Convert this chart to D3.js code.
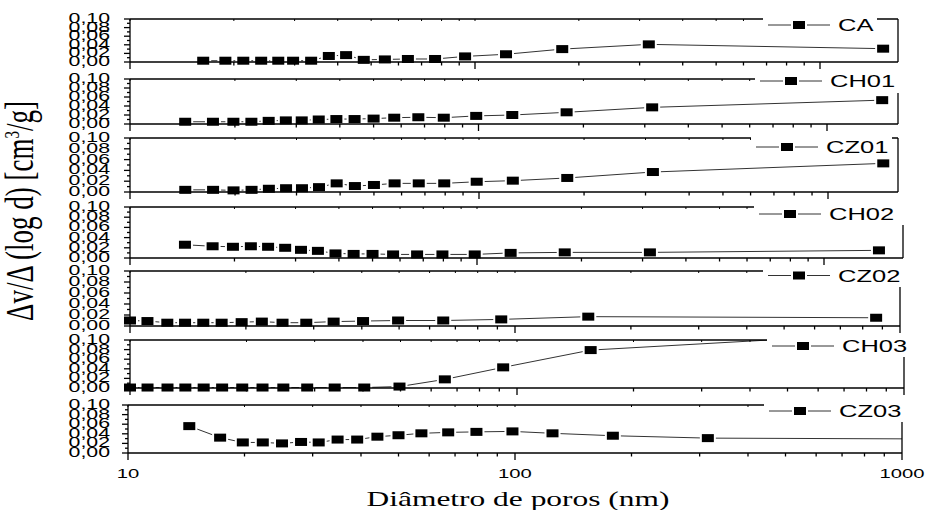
<!DOCTYPE html>
<html>
<head>
<meta charset="utf-8">
<script src="https://cdn.jsdelivr.net/npm/d3@7"></script>
<style>
  html, body { margin: 0; padding: 0; background: #fff; }
  svg { display: block; }
</style>
</head>
<body>
<svg id="chart" width="930" height="510"></svg>
<script>
// Pore size distributions, one stacked panel per sample
const seriesNames = ["CA", "CH01", "CZ01", "CH02", "CZ02", "CH03", "CZ03"];

// pore diameters (nm)
const diamCA = [16.3, 18.9, 21.3, 24.0, 26.9, 29.7, 33.5, 37.7, 42.3, 47.6, 54.8, 63.9, 76.6, 93.6, 123, 179, 319, 1524];
const diamStd = [14.4, 17.3, 19.8, 22.3, 25.0, 28.0, 31.1, 34.8, 39.1, 44.1, 50.0, 57.3, 67.2, 79.5, 98.5, 125, 179, 315, 1440];
const diamFine = [10.0, 11.1, 12.5, 13.9, 15.5, 17.3, 19.5, 22.0, 24.9, 28.7, 33.8, 40.3, 49.7, 65.1, 92.1, 155, 867];

// dV/dlog(D) (cm3/g)
const valCA   = [0.003, 0.003, 0.003, 0.003, 0.003, 0.003, 0.003, 0.014, 0.016, 0.005, 0.006, 0.007, 0.007, 0.013, 0.018, 0.030, 0.041, 0.031];
const valCH01 = [0.005, 0.005, 0.005, 0.005, 0.007, 0.008, 0.008, 0.010, 0.011, 0.011, 0.012, 0.014, 0.015, 0.014, 0.018, 0.020, 0.026, 0.037, 0.053];
const valCZ01 = [0.004, 0.004, 0.003, 0.004, 0.006, 0.007, 0.007, 0.009, 0.016, 0.011, 0.013, 0.016, 0.016, 0.016, 0.019, 0.021, 0.026, 0.037, 0.053];
const valCH02 = [0.026, 0.023, 0.022, 0.023, 0.022, 0.020, 0.016, 0.014, 0.009, 0.008, 0.008, 0.007, 0.007, 0.007, 0.007, 0.010, 0.011, 0.011, 0.015];
const valCZ02 = [0.010, 0.009, 0.006, 0.006, 0.006, 0.006, 0.007, 0.008, 0.006, 0.006, 0.008, 0.009, 0.010, 0.010, 0.012, 0.017, 0.015];
const valCH03 = [0.001, 0.001, 0.001, 0.001, 0.001, 0.001, 0.001, 0.001, 0.001, 0.001, 0.001, 0.001, 0.003, 0.018, 0.043, 0.079, 0.113];
const valCZ03 = [0.056, 0.032, 0.022, 0.022, 0.020, 0.023, 0.022, 0.028, 0.028, 0.034, 0.037, 0.041, 0.043, 0.044, 0.045, 0.041, 0.036, 0.031, 0.029];

// axis ticks
const yTickValues = [0, 0.01, 0.02, 0.03, 0.04, 0.05, 0.06, 0.07, 0.08, 0.09, 0.10];
const yTickLabels = ["0,00", "0,02", "0,04", "0,06", "0,08", "0,10"];
const xMajorTicks = [10, 100, 1000];
const xMinorTicks = [20, 30, 40, 50, 60, 70, 80, 90, 200, 300, 400, 500, 600, 700, 800, 900];
const xTickLabels = ["10", "100", "1000"];
const xTitle = "Diâmetro de poros (nm)";

const diameters = [diamCA, diamStd, diamStd, diamStd, diamFine, diamFine, diamStd];
const values = [valCA, valCH01, valCZ01, valCH02, valCZ02, valCH03, valCZ03];

// panel frames (pixels)
const layout = [
  { top: 19,  bottom: 62,  x10: 130, x1000: 820, right: 898, legLeft: 763, legY: 25,  legBottom: 35,  legRight: 877 },
  { top: 79,  bottom: 124, x10: 130, x1000: 827, right: 898, legLeft: 755, legY: 81,  legBottom: 93,  legRight: 900 },
  { top: 138, bottom: 192, x10: 130, x1000: 828, right: 898, legLeft: 751, legY: 147, legBottom: 152, legRight: 892 },
  { top: 207, bottom: 258, x10: 130, x1000: 824, right: 903, legLeft: 754, legY: 214, legBottom: 225, legRight: 905 },
  { top: 271, bottom: 326, x10: 130, x1000: 900, right: 900, legLeft: 763, legY: 275.5, legBottom: 287, legRight: 907 },
  { top: 340, bottom: 388, x10: 130, x1000: 904, right: 904, legLeft: 767, legY: 346, legBottom: 357, legRight: 913 },
  { top: 405, bottom: 453, x10: 128, x1000: 902, right: 902, legLeft: 764, legY: 411, legBottom: 422, legRight: 907 }
];

const SANS = "'Liberation Sans', Arial, Helvetica, sans-serif";
const SERIF = "'Liberation Serif', 'Times New Roman', serif";
const SX = 1.42;         // horizontal stretch applied to the lettering
const AXIS_W = 1.3;
const MW = 12, MH = 8;   // square symbol, drawn wide

const svg = d3.select("#chart");
const defs = svg.append("defs");

seriesNames.forEach((name, i) => {
  const L = layout[i];
  const x = d3.scaleLog().domain([10, 1000]).range([L.x10, L.x1000]);
  const y = d3.scaleLinear().domain([0, 0.10]).range([L.bottom, L.top]);
  const pts = diameters[i].map((d, k) => ({ d, v: values[i][k] }));
  const g = svg.append("g").attr("class", "panel");

  defs.append("clipPath").attr("id", "clip" + i)
    .append("rect")
    .attr("x", L.x10 - 12).attr("y", L.top)
    .attr("width", L.right - L.x10 + 12)
    .attr("height", L.bottom - L.top + 6);

  const plot = g.append("g").attr("clip-path", `url(#clip${i})`);

  plot.append("path")
    .datum(pts)
    .attr("fill", "none")
    .attr("stroke", "#333")
    .attr("stroke-width", 1)
    .attr("d", d3.line().x(p => x(p.d)).y(p => y(p.v)));

  plot.selectAll("rect.halo").data(pts).join("rect")
    .attr("class", "halo")
    .attr("x", p => x(p.d) - MW / 2 - 2).attr("y", p => y(p.v) - MH / 2 - 2)
    .attr("width", MW + 4).attr("height", MH + 4)
    .attr("fill", "#fff");

  // frame
  const frame = g.append("g").attr("stroke", "#000").attr("stroke-width", AXIS_W).attr("fill", "none");
  frame.append("line").attr("x1", L.x10).attr("x2", L.right).attr("y1", L.top).attr("y2", L.top);
  frame.append("line").attr("x1", L.x10).attr("x2", L.right).attr("y1", L.bottom).attr("y2", L.bottom);
  frame.append("line").attr("x1", L.x10).attr("x2", L.x10).attr("y1", L.top).attr("y2", L.bottom);
  frame.append("line").attr("x1", L.right).attr("x2", L.right).attr("y1", L.top).attr("y2", L.bottom);

  // y ticks
  frame.selectAll("line.yt").data(yTickValues).join("line")
    .attr("class", "yt")
    .attr("x1", (v, k) => L.x10 - (k % 2 === 0 ? 6 : 3)).attr("x2", L.x10)
    .attr("y1", v => y(v)).attr("y2", v => y(v));

  // x ticks (bottom, outward; top, small inward)
  const xt = xMajorTicks.map(t => ({ t, major: true }))
    .concat(xMinorTicks.map(t => ({ t, major: false })))
    .filter(o => x(o.t) <= L.right + 0.5);
  frame.selectAll("line.xb").data(xt).join("line")
    .attr("class", "xb")
    .attr("x1", o => x(o.t)).attr("x2", o => x(o.t))
    .attr("y1", L.bottom).attr("y2", o => L.bottom + (o.major ? 7 : 3.5));
  frame.selectAll("line.xtop").data(xt).join("line")
    .attr("class", "xtop")
    .attr("stroke-width", 1)
    .attr("x1", o => x(o.t)).attr("x2", o => x(o.t))
    .attr("y1", L.top).attr("y2", L.top + 2);

  // y tick labels
  g.selectAll("text.yl").data(yTickLabels).join("text")
    .attr("class", "yl")
    .attr("transform", (s, k) => `translate(110,${y(k * 0.02) + 4}) scale(${SX},1)`)
    .attr("text-anchor", "end")
    .attr("font-family", SANS).attr("font-size", 15)
    .attr("fill", "#000")
    .text(s => s);

  // symbols
  plot.selectAll("rect.sym").data(pts).join("rect")
    .attr("class", "sym")
    .attr("x", p => x(p.d) - MW / 2).attr("y", p => y(p.v) - MH / 2)
    .attr("width", MW).attr("height", MH)
    .attr("fill", "#000");

  // legend
  const lg = g.append("g");
  lg.append("rect")
    .attr("x", L.legLeft).attr("y", L.legY - 10)
    .attr("width", L.legRight - L.legLeft).attr("height", L.legBottom - (L.legY - 10))
    .attr("fill", "#fff");
  lg.append("line")
    .attr("x1", L.legLeft + 5).attr("x2", L.legLeft + 67)
    .attr("y1", L.legY).attr("y2", L.legY)
    .attr("stroke", "#333").attr("stroke-width", 1);
  lg.append("rect")
    .attr("x", L.legLeft + 36 - MW / 2 - 2).attr("y", L.legY - MH / 2 - 1)
    .attr("width", MW + 4).attr("height", MH + 2).attr("fill", "#fff");
  lg.append("rect")
    .attr("x", L.legLeft + 36 - MW / 2).attr("y", L.legY - MH / 2)
    .attr("width", MW).attr("height", MH).attr("fill", "#000");
  lg.append("text")
    .attr("transform", `translate(${L.legLeft + 75},${L.legY + 6}) scale(1.5,1)`)
    .attr("font-family", SANS).attr("font-size", 17)
    .attr("fill", "#000")
    .text(name);

  // x tick labels on the bottom panel only
  if (i === seriesNames.length - 1) {
    g.selectAll("text.xl").data(xMajorTicks).join("text")
      .attr("class", "xl")
      .attr("transform", (t, k) => `translate(${x(t)},478) scale(1.5,1)`)
      .attr("text-anchor", "middle")
      .attr("font-family", SANS).attr("font-size", 13.5)
      .attr("fill", "#000")
      .text((t, k) => xTickLabels[k]);
  }
});

// axis titles
svg.append("text")
  .attr("transform", `translate(518,506) scale(1.43,1)`)
  .attr("text-anchor", "middle")
  .attr("font-family", SERIF).attr("font-size", 22)
  .attr("fill", "#000")
  .text(xTitle);

const yTitle = svg.append("text")
  .attr("transform", `translate(33,211) rotate(-90) scale(1,1.45)`)
  .attr("text-anchor", "middle")
  .attr("font-family", SERIF).attr("font-size", 27)
  .attr("fill", "#000");
yTitle.append("tspan").text("Δv/Δ (log d) [cm");
yTitle.append("tspan").attr("font-size", 15).attr("dy", -10).text("3");
yTitle.append("tspan").attr("dy", 10).text("/g]");
</script>
</body>
</html>
